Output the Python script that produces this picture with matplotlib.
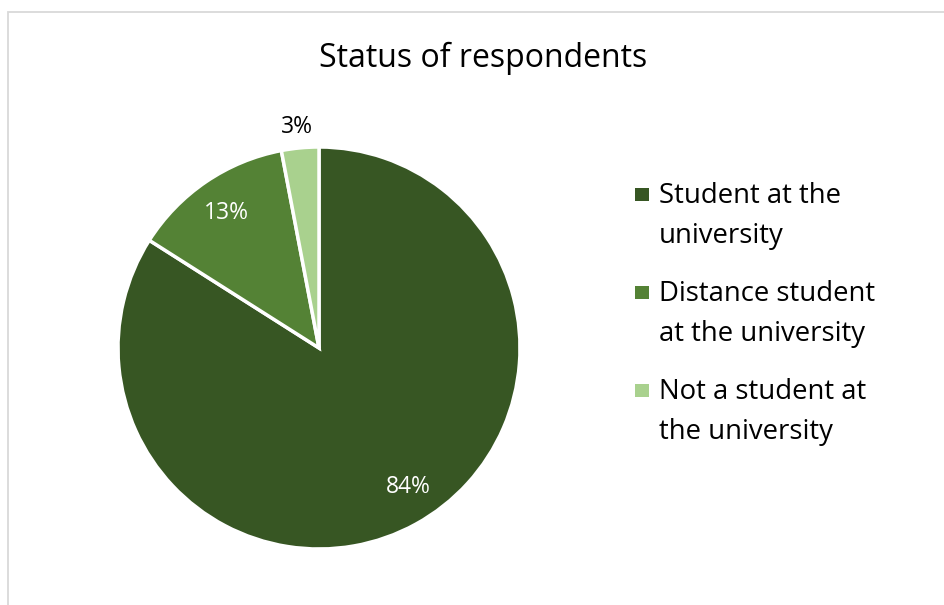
import matplotlib.pyplot as plt
import matplotlib.patches as patches

labels = ['Student at the\nuniversity', 'Distance student\nat the university', 'Not a student at\nthe university']
shares = [84, 13, 3]
colors = ['#375623', '#548235', '#A9D18E']
label_colors = ['white', 'white', 'black']

W, H = 944, 605
fig = plt.figure(figsize=(W / 100, H / 100), dpi=100)
fig.patch.set_facecolor('white')
font = 'Open Sans'

# light grey frame of the chart area (runs off the right and bottom edges)
fig.add_artist(patches.Rectangle((8 / W, -0.1), 1.2, (H - 12) / H + 0.1,
                                 transform=fig.transFigure, facecolor='none',
                                 edgecolor='#D9D9D9', linewidth=1.3))

# pie centred at (319, 348) px with radius ~201 px
r = 201
cx, cy = 319, 348
ax = fig.add_axes([(cx - r) / W, (H - cy - r) / H, 2 * r / W, 2 * r / H])
wedges, _ = ax.pie(shares, colors=colors, startangle=90, counterclock=False,
                   radius=1.0, wedgeprops=dict(edgecolor='white', linewidth=2.5))
ax.set_xlim(-1, 1)
ax.set_ylim(-1, 1)
ax.set_aspect('equal')
ax.axis('off')

# data labels, in px positions
label_pos = [(408, 487), (226, 213), (297, 127)]
for (px, py), v, c in zip(label_pos, shares, label_colors):
    fig.text(px / W, 1 - py / H, f'{v}%', color=c, fontsize=16.5,
             ha='center', va='center', family=font)

fig.text(483 / W, 1 - 58 / H, 'Status of respondents', fontsize=23,
         ha='center', va='center', family=font, color='black')

# legend
for i, (lab, c) in enumerate(zip(labels, colors)):
    top = 188 + i * 98
    fig.add_artist(patches.Rectangle((635 / W, 1 - (top + 13) / H), 14 / W, 13 / H,
                                     transform=fig.transFigure, facecolor=c,
                                     edgecolor='none'))
    fig.text(659 / W, 1 - (top + 28) / H, lab, fontsize=19.8, ha='left', va='center',
             family=font, linespacing=1.56, color='black')

fig.savefig('out.png', dpi=100)
